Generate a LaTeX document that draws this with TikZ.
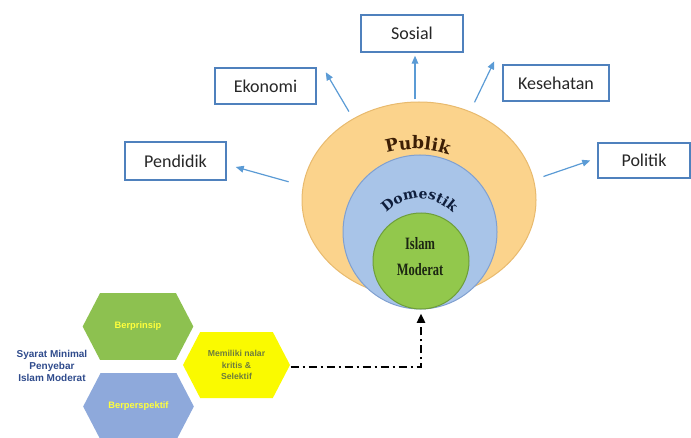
\documentclass[tikz,border=0pt]{standalone}
\usepackage{fontspec}
\setmainfont{Carlito}
\newfontfamily\arialfont{Liberation Sans}
\newfontfamily\serifcond[FakeStretch=0.72]{Liberation Serif}
\newfontfamily\hiasfont{DejaVu Serif}
\usetikzlibrary{shapes.geometric,shapes.symbols,arrows.meta,decorations.text,calc}

\definecolor{garisbiru}{RGB}{79,129,189}
\definecolor{panahbiru}{RGB}{91,155,213}
\definecolor{teksabu}{RGB}{38,38,38}
\definecolor{oranye}{RGB}{251,211,140}
\definecolor{tepioranye}{RGB}{232,186,110}
\definecolor{birumuda}{RGB}{168,196,232}
\definecolor{tepibiru}{RGB}{128,160,208}
\definecolor{hijau}{RGB}{146,200,76}
\definecolor{tepihijau}{RGB}{110,158,58}
\definecolor{teksgelap}{RGB}{28,38,18}
\definecolor{publikc}{RGB}{60,30,5}
\definecolor{domestikc}{RGB}{15,30,60}
\definecolor{hijauheksa}{RGB}{141,193,80}
\definecolor{biruheksa}{RGB}{142,169,219}
\definecolor{kuningheksa}{RGB}{250,250,0}
\definecolor{kuning}{RGB}{255,255,60}
\definecolor{teksolive}{RGB}{110,125,60}
\definecolor{navy}{RGB}{47,75,140}

\tikzset{every picture/.style={line width=0.75pt},
  kotak/.style={draw=garisbiru, line width=1.1pt, fill=white, inner sep=0pt, minimum height=27pt, font=\fontsize{13.5}{16}\selectfont, text=teksabu},
  panah/.style={draw=panahbiru, line width=0.9pt, -{Triangle[length=6pt,width=5pt]}},
  heksa/.style={signal, signal to=east and west, signal pointer angle=125, minimum width=83pt, minimum height=50pt, inner sep=0pt, align=center, font=\arialfont\bfseries\fontsize{7}{8.6}\selectfont},
  titikgaris/.style={line width=1.8pt, dash pattern={on 6pt off 3pt on 1.5pt off 3pt}, -{Triangle[length=7pt,width=6pt]}},
}

\begin{document}
\begin{tikzpicture}[x=0.75pt,y=0.75pt,yscale=-1,xscale=1]
\useasboundingbox (0,0) rectangle (691,438);

%Shape: Ellipse
\node [ellipse, draw=tepioranye, fill=oranye, minimum width=175.5pt, minimum height=147pt] (publik) at (419,200) {};
%Shape: Circle
\node [circle, draw=tepibiru, fill=birumuda, minimum size=115.5pt] (domestik) at (420,232) {};
%Shape: Circle
\node [circle, draw=tepihijau, fill=hijau, minimum size=72pt] (islam) at (421,261) {};

% Text Node
\node [align=center, text=teksgelap, font=\serifcond\bfseries\fontsize{13}{19.5}\selectfont] (islamteks) at (420,257) {Islam\\Moderat};
% Text along arcs
\path [decorate, decoration={text along path, text align=center, text color=publikc, text={|\hiasfont\bfseries\fontsize{13}{15}\selectfont|Publik}}] (383,154) .. controls (405,147) and (430,147) .. (452,156);
\path [decorate, decoration={text along path, text align=center, text color=domestikc, text={|\hiasfont\bfseries\fontsize{10.5}{13}\selectfont|Domestik}}] (380,220) .. controls (403,191) and (435,191) .. (459,220);

% Boxes
\node [kotak, minimum width=76.5pt, minimum height=27.75pt] (sosial) at (412,33.5) {Sosial};
\node [kotak, minimum width=75.75pt] (ekonomi) at (265.5,86) {Ekonomi};
\node [kotak, minimum width=79.5pt] (kesehatan) at (556,83) {Kesehatan};
\node [kotak, minimum width=75.75pt, minimum height=28.5pt] (pendidik) at (175.5,161) {Pendidik};
\node [kotak, minimum width=69pt, minimum height=26.25pt] (politik) at (644,160.5) {Politik};

%Straight Lines
\draw [panah] ($(publik.north)+(-4,-2)$) -- ($(sosial.south)+(3,3)$);
\draw [panah, shorten <=6pt] (publik.129) -- ($(ekonomi.north east)+(9,5)$);
\draw [panah, shorten <=7.5pt] (publik.60) -- ($(kesehatan.north west)+(-8,-3)$);
\draw [panah, shorten <=11pt] (publik.173) -- ($(pendidik.east)+(9,6)$);
\draw [panah, shorten <=7.5pt] (publik.10.5) -- ($(politik.west)+(-7,0)$);

%Shape: Hexagons
\node [heksa, fill=hijauheksa, text=kuning] (berprinsip) at (138,326.5) {Berprinsip};
\node [heksa, fill=biruheksa, text=kuning] (berperspektif) at (138.5,406.5) {Berperspektif};
\node [heksa, fill=kuningheksa, minimum width=80.25pt, minimum height=49.5pt, text=teksolive, font=\arialfont\bfseries\fontsize{6.5}{8.6}\selectfont] (memiliki) at (236.5,365) {Memiliki nalar\\kritis \&\\Selektif};

% Text Node
\node [align=center, text=navy, font=\arialfont\bfseries\fontsize{7.5}{8.7}\selectfont] (syarat) at (52,366) {Syarat Minimal\\Penyebar\\Islam Moderat};

%Dash dot line
\draw [titikgaris, shorten >=3pt] ($(memiliki.east)+(0,2)$) -| (islam.south);

\end{tikzpicture}
\end{document}
